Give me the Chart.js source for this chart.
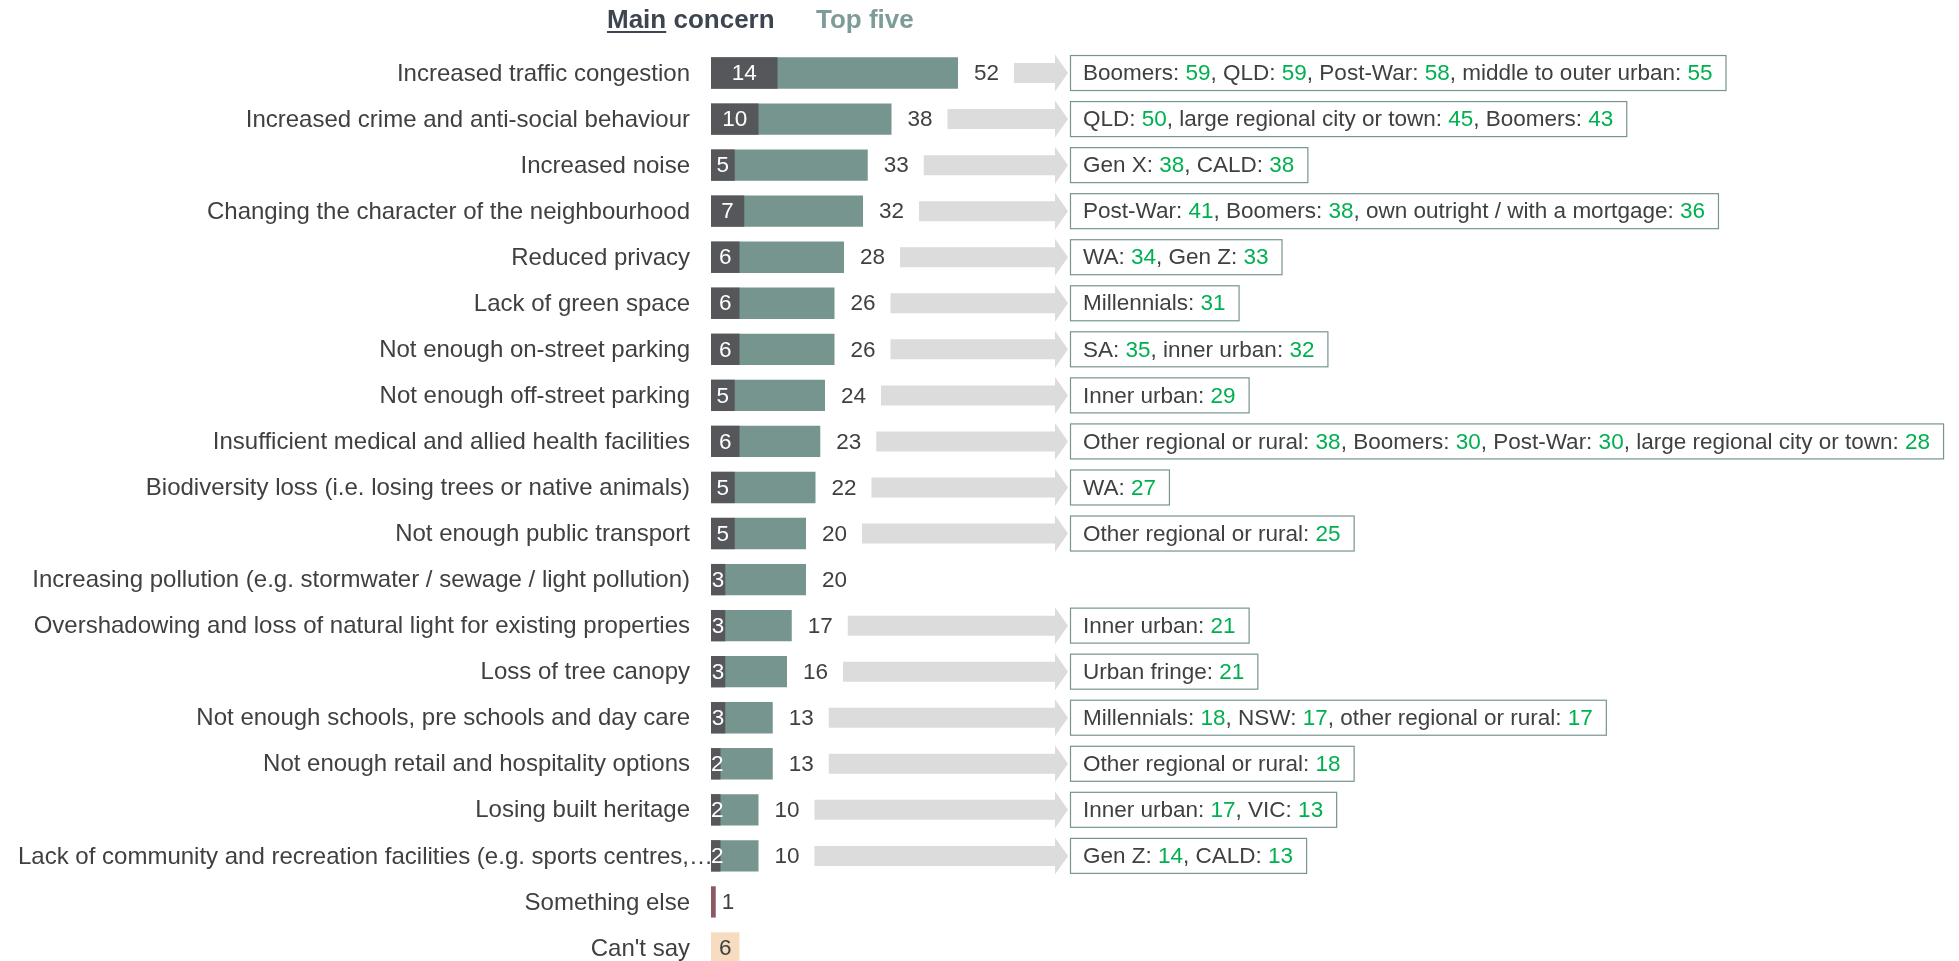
<!DOCTYPE html>
<html>
<head>
<meta charset="utf-8">
<title>Concerns about new housing</title>
<script src="https://cdn.jsdelivr.net/npm/chart.js@4"></script>
<style>
  html, body { margin: 0; padding: 0; background: #fff; overflow: hidden; }
  #wrap { width: 1959px; height: 985px; }
</style>
</head>
<body>
<div id="wrap"><canvas id="concerns" width="1959" height="985"></canvas></div>
<script>
// concerns chart
const categories = [
  "Increased traffic congestion",
  "Increased crime and anti-social behaviour",
  "Increased noise",
  "Changing the character of the neighbourhood",
  "Reduced privacy",
  "Lack of green space",
  "Not enough on-street parking",
  "Not enough off-street parking",
  "Insufficient medical and allied health facilities",
  "Biodiversity loss (i.e. losing trees or native animals)",
  "Not enough public transport",
  "Increasing pollution (e.g. stormwater / sewage / light pollution)",
  "Overshadowing and loss of natural light for existing properties",
  "Loss of tree canopy",
  "Not enough schools, pre schools and day care",
  "Not enough retail and hospitality options",
  "Losing built heritage",
  "Lack of community and recreation facilities (e.g. sports centres,\u2026",
  "Something else",
  "Can't say",
];

// % picking it as the main concern
const mainConcern = [14, 10, 5, 7, 6, 6, 6, 5, 6, 5, 5, 3, 3, 3, 3, 2, 2, 2, null, null];
// % picking it in their top five
const topFive = [52, 38, 33, 32, 28, 26, 26, 24, 23, 22, 20, 20, 17, 16, 13, 13, 10, 10, null, null];
// single answers at the bottom
const otherAnswers = [null, null, null, null, null, null, null, null, null, null,
  null, null, null, null, null, null, null, null, 1, 6];

// groups that are well above average, per row
const highGroups = [
  [["Boomers", 59], ["QLD", 59], ["Post-War", 58], ["middle to outer urban", 55]],
  [["QLD", 50], ["large regional city or town", 45], ["Boomers", 43]],
  [["Gen X", 38], ["CALD", 38]],
  [["Post-War", 41], ["Boomers", 38], ["own outright / with a mortgage", 36]],
  [["WA", 34], ["Gen Z", 33]],
  [["Millennials", 31]],
  [["SA", 35], ["inner urban", 32]],
  [["Inner urban", 29]],
  [["Other regional or rural", 38], ["Boomers", 30], ["Post-War", 30], ["large regional city or town", 28]],
  [["WA", 27]],
  [["Other regional or rural", 25]],
  [],
  [["Inner urban", 21]],
  [["Urban fringe", 21]],
  [["Millennials", 18], ["NSW", 17], ["other regional or rural", 17]],
  [["Other regional or rural", 18]],
  [["Inner urban", 17], ["VIC", 13]],
  [["Gen Z", 14], ["CALD", 13]],
  [],
  [],
];

const FONT = '"Liberation Sans", Arial, sans-serif';
const TEXT = "#404040";
const DARK = "#55575b";
const TEAL = "#76958f";
const GREEN = "#00b050";

const labelsPlugin = {
  id: "labels",
  afterDatasetsDraw(chart) {
    const ctx = chart.ctx;
    const yScale = chart.scales.y;
    const mainMeta = chart.getDatasetMeta(0);
    const topMeta = chart.getDatasetMeta(1);
    const otherMeta = chart.getDatasetMeta(2);
    ctx.save();
    ctx.textBaseline = "middle";

    categories.forEach((c, i) => {
      // category name, right aligned unless it runs off the left edge
      const ly = yScale.getPixelForTick(i);
      ctx.font = "24px " + FONT;
      ctx.fillStyle = TEXT;
      const right = yScale.right - 21;
      const lw = ctx.measureText(c).width;
      if (right - lw < 18) {
        ctx.textAlign = "left";
        ctx.fillText(c, 18, ly + 1);
      } else {
        ctx.textAlign = "right";
        ctx.fillText(c, right, ly + 1);
      }

      ctx.font = "22.5px " + FONT;
      // main concern number inside the dark segment
      if (mainConcern[i] != null) {
        const bar = mainMeta.data[i];
        const txt = String(mainConcern[i]);
        const w = ctx.measureText(txt).width;
        let cx = (bar.base + bar.x) / 2;
        if (cx - w / 2 < bar.base) cx = bar.base + w / 2;
        ctx.fillStyle = "#fff";
        ctx.textAlign = "center";
        ctx.fillText(txt, cx, bar.y + 1);
      }
      // top five total past the end of the bar
      if (topFive[i] != null) {
        const bar = topMeta.data[i];
        ctx.fillStyle = TEXT;
        ctx.textAlign = "left";
        ctx.fillText(String(topFive[i]), bar.x + 16, bar.y + 1);

        const groups = highGroups[i];
        if (groups.length) {
          const y = bar.y;
          const x0 = bar.x + 56;
          const headX = 1055, tipX = 1068;
          // arrow
          ctx.fillStyle = "#dcdcdc";
          ctx.beginPath();
          ctx.moveTo(x0, y - 10);
          ctx.lineTo(headX, y - 10);
          ctx.lineTo(headX, y - 18.5);
          ctx.lineTo(tipX, y);
          ctx.lineTo(headX, y + 18.5);
          ctx.lineTo(headX, y + 10);
          ctx.lineTo(x0, y + 10);
          ctx.closePath();
          ctx.fill();

          // box with groups and their figures
          const parts = [];
          groups.forEach((g, k) => {
            parts.push([(k ? ", " : "") + g[0] + ": ", TEXT]);
            parts.push([String(g[1]), GREEN]);
          });
          const boxX = 1070, pad = 13;
          let width = 0;
          parts.forEach(p => { width += ctx.measureText(p[0]).width; });
          ctx.fillStyle = "#fff";
          ctx.fillRect(boxX, y - 18, width + pad * 2, 36);
          ctx.strokeStyle = TEAL;
          ctx.lineWidth = 1.2;
          ctx.strokeRect(boxX + 0.5, y - 17.5, width + pad * 2, 35);
          let tx = boxX + pad;
          ctx.textAlign = "left";
          parts.forEach(p => {
            ctx.fillStyle = p[1];
            ctx.fillText(p[0], tx, y + 1);
            tx += ctx.measureText(p[0]).width;
          });
        }
      }
      // something else / can't say
      if (otherAnswers[i] != null) {
        const bar = otherMeta.data[i];
        const txt = String(otherAnswers[i]);
        const w = ctx.measureText(txt).width;
        ctx.fillStyle = TEXT;
        if (bar.x - bar.base > w + 4) {
          ctx.textAlign = "center";
          ctx.fillText(txt, (bar.x + bar.base) / 2, bar.y + 1);
        } else {
          ctx.textAlign = "left";
          ctx.fillText(txt, bar.x + 6, bar.y + 1);
        }
      }
    });
    ctx.restore();
  },
  afterDraw(chart) {
    // legend at the top
    const ctx = chart.ctx;
    ctx.save();
    ctx.font = "bold 26px " + FONT;
    ctx.textBaseline = "alphabetic";
    ctx.textAlign = "left";
    ctx.fillStyle = "#3d4650";
    const x = 607;
    ctx.fillText("Main", x, 28);
    const mw = ctx.measureText("Main").width;
    ctx.fillText(" concern", x + mw, 28);
    ctx.fillRect(x, 31, mw, 2);
    ctx.fillStyle = "#7b9c98";
    ctx.fillText("Top five", 816, 28);
    ctx.restore();
  },
};

new Chart(document.getElementById("concerns"), {
  type: "bar",
  data: {
    labels: categories,
    datasets: [
      {
        label: "Main concern",
        data: mainConcern,
        backgroundColor: DARK,
      },
      {
        label: "Top five",
        data: topFive,
        backgroundColor: TEAL,
      },
      {
        label: "Other",
        data: otherAnswers,
        backgroundColor: ["", "", "", "", "", "", "", "", "", "", "", "", "", "", "", "", "", "",
          "#8a5a63", "#f6ddc0"],
      },
    ],
  },
  options: {
    indexAxis: "y",
    responsive: false,
    animation: false,
    layout: { padding: { top: 50, bottom: 14, left: 0, right: 13 } },
    datasets: {
      bar: { grouped: false, categoryPercentage: 1, barPercentage: 0.68 },
    },
    plugins: {
      legend: { display: false },
      tooltip: { enabled: false },
    },
    scales: {
      x: { display: false, min: 0, max: 260 },
      y: {
        grid: { display: false, drawTicks: false },
        border: { display: false },
        ticks: { display: false, autoSkip: false },
        afterFit(scale) { scale.width = 711; },
      },
    },
  },
  plugins: [labelsPlugin],
});
</script>
</body>
</html>
